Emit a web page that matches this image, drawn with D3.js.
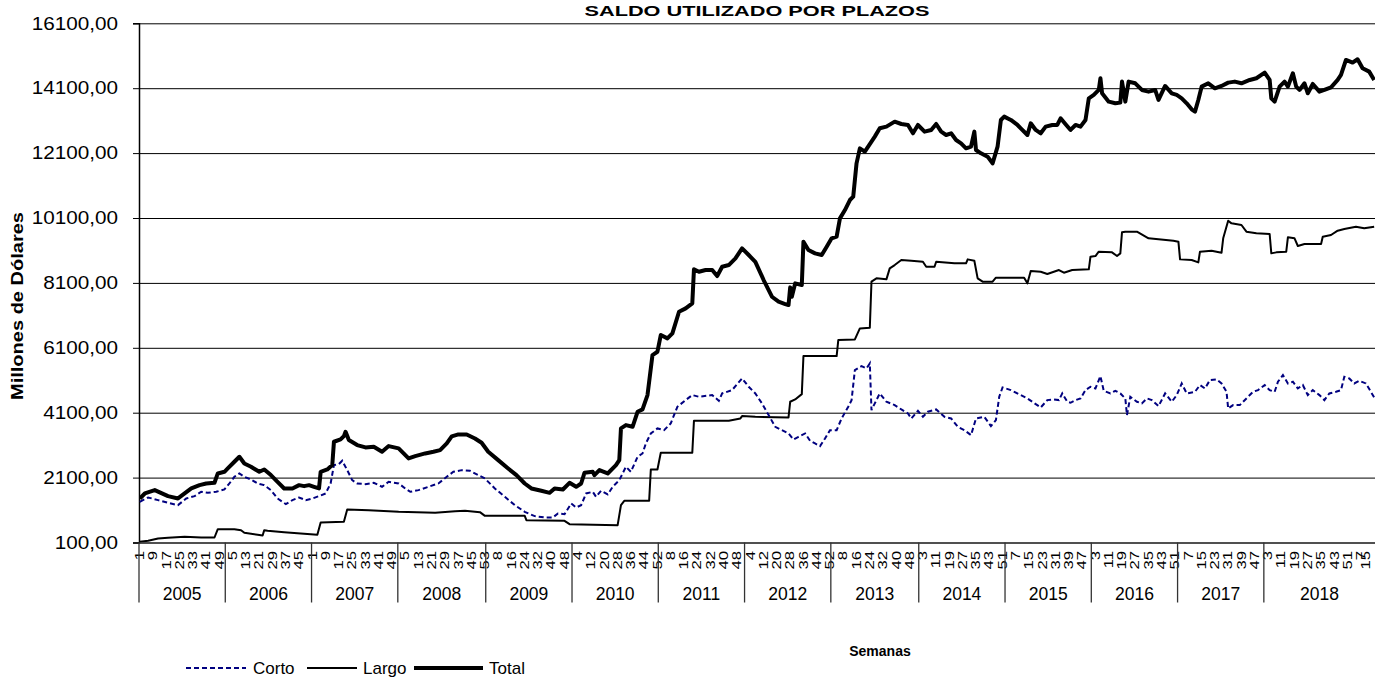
<!DOCTYPE html>
<html>
<head>
<meta charset="utf-8">
<script src="https://cdnjs.cloudflare.com/ajax/libs/d3/7.8.5/d3.min.js"></script>
<style>
  body { margin: 0; background: #fff; }
  svg { font-family: Arial, "Liberation Sans", sans-serif; }
</style>
</head>
<body>
<div id="viz"></div>
<script>
// Years on the category axis and weeks per year (2018 carries 15 extra weeks)
const years = [2005, 2006, 2007, 2008, 2009, 2010, 2011, 2012, 2013, 2014, 2015, 2016, 2017, 2018];
const weeksPerYear = [52, 52, 52, 53, 52, 52, 52, 52, 53, 52, 52, 52, 52, 52];
const extraWeeks2018 = 15;
const yTicks = [100, 2100, 4100, 6100, 8100, 10100, 12100, 14100, 16100];

// [week index since 2005-1, value in millions]
const corto = [[0,1354],[5,1488],[11,1406],[17,1323],[23,1251],[28,1457],[33,1529],[37,1663],[41,1632],[46,1663],[51,1735],[54,1920],[57,2125],[60,2228],[63,2125],[67,2043],[71,1920],[75,1868],[79,1714],[83,1457],[88,1282],[92,1406],[96,1488],[100,1406],[104,1457],[108,1529],[112,1611],[115,1920],[117,2485],[120,2516],[122,2619],[125,2331],[128,2022],[131,1920],[136,1899],[141,1940],[146,1817],[150,1971],[156,1920],[160,1765],[163,1663],[168,1714],[174,1817],[180,1920],[185,2125],[189,2279],[194,2330],[199,2310],[204,2176],[208,2073],[214,1765],[220,1508],[226,1251],[232,1046],[238,912],[244,871],[249,871],[252,994],[256,974],[260,1302],[263,1179],[266,1251],[269,1611],[273,1662],[275,1508],[278,1693],[282,1580],[285,1816],[289,2022],[293,2433],[296,2279],[300,2741],[303,2844],[305,3152],[308,3461],[312,3615],[316,3563],[320,3769],[324,4283],[329,4488],[333,4643],[337,4591],[345,4643],[349,4468],[351,4694],[357,4797],[363,5156],[367,4899],[371,4694],[375,4386],[379,4026],[383,3666],[387,3563],[391,3461],[394,3276],[397,3358],[401,3461],[404,3234],[407,3152],[410,3070],[413,3306],[416,3563],[420,3563],[423,3923],[427,4283],[429,4488],[431,5413],[435,5536],[438,5465],[440,5619],[441,4180],[443,4386],[446,4694],[450,4437],[455,4334],[459,4200],[463,4077],[465,3923],[469,4159],[472,3974],[475,4129],[480,4200],[485,3974],[489,3923],[493,3666],[497,3563],[501,3409],[504,3923],[509,3974],[513,3687],[516,3872],[518,4591],[520,4879],[525,4797],[531,4643],[535,4540],[540,4365],[543,4262],[547,4488],[551,4509],[554,4488],[556,4694],[559,4437],[561,4406],[564,4488],[567,4540],[570,4797],[573,4899],[576,4848],[579,5228],[581,4776],[585,4694],[588,4776],[591,4694],[594,4540],[595,4026],[597,4591],[601,4437],[604,4386],[607,4540],[610,4488],[614,4303],[618,4694],[622,4437],[625,4643],[628,5002],[631,4694],[636,4745],[639,4951],[642,4848],[645,5105],[649,5125],[652,5002],[655,4745],[656,4231],[659,4334],[663,4334],[667,4540],[671,4745],[674,4797],[678,4951],[681,4797],[684,4745],[686,5053],[689,5259],[692,5002],[695,5053],[698,4848],[701,4951],[704,4643],[707,4797],[711,4643],[714,4488],[717,4694],[721,4745],[724,4797],[726,5208],[729,5156],[732,5002],[735,5084],[739,5002],[742,4745],[744,4571]];

const largo = [[0,121],[5,151],[11,223],[17,244],[27,275],[37,254],[45,254],[47,511],[57,511],[61,480],[63,398],[71,336],[74,316],[75,480],[77,460],[87,419],[97,378],[107,336],[109,717],[123,737],[125,1118],[138,1097],[156,1046],[178,1015],[186,1046],[190,1066],[196,1076],[205,1035],[208,922],[232,922],[233,789],[256,768],[259,665],[288,634],[290,1251],[292,1385],[307,1385],[308,2351],[312,2351],[314,2865],[333,2865],[334,3851],[355,3851],[362,3923],[363,3995],[371,3974],[391,3954],[392,4437],[395,4509],[399,4673],[400,5845],[420,5845],[421,6338],[431,6359],[434,6698],[440,6718],[441,8137],[444,8240],[450,8209],[452,8548],[455,8650],[459,8805],[465,8784],[472,8753],[474,8599],[479,8599],[480,8753],[491,8702],[498,8702],[499,8825],[503,8784],[505,8240],[508,8137],[514,8137],[516,8260],[533,8260],[535,8086],[537,8466],[543,8445],[547,8373],[554,8496],[557,8414],[562,8496],[572,8517],[573,8907],[576,8928],[578,9062],[586,9041],[589,8928],[591,9010],[592,9658],[594,9678],[601,9678],[608,9473],[623,9401],[626,9370],[627,8825],[634,8805],[638,8733],[639,9062],[646,9092],[652,9031],[653,9473],[656,10017],[658,9935],[664,9884],[667,9678],[673,9627],[681,9607],[682,9010],[685,9041],[691,9062],[692,9504],[696,9473],[698,9237],[702,9298],[712,9298],[713,9524],[718,9576],[722,9709],[726,9761],[733,9833],[738,9781],[744,9833]];

const total = [[0,1457],[3,1611],[9,1714],[17,1529],[23,1457],[27,1611],[31,1765],[36,1868],[40,1920],[45,1940],[47,2228],[51,2279],[53,2382],[57,2588],[60,2742],[63,2536],[67,2434],[72,2279],[75,2351],[79,2177],[83,1971],[87,1765],[92,1765],[96,1868],[99,1837],[102,1868],[105,1817],[108,1765],[109,2279],[113,2351],[116,2485],[117,3205],[121,3277],[123,3379],[124,3513],[126,3256],[131,3102],[136,3030],[141,3051],[146,2896],[150,3071],[156,2999],[159,2845],[162,2691],[166,2763],[172,2845],[177,2896],[181,2948],[185,3153],[188,3370],[192,3430],[197,3430],[202,3306],[206,3173],[210,2895],[216,2638],[222,2382],[227,2176],[232,1919],[236,1765],[242,1693],[247,1631],[250,1765],[255,1734],[259,1940],[263,1816],[266,1919],[268,2248],[273,2279],[274,2176],[277,2330],[282,2227],[287,2484],[289,2638],[290,3615],[293,3718],[297,3666],[300,4129],[303,4201],[306,4643],[309,5876],[312,5979],[314,6492],[318,6390],[321,6544],[325,7212],[329,7314],[333,7469],[334,8517],[337,8445],[341,8496],[345,8496],[348,8311],[351,8599],[355,8650],[359,8856],[363,9164],[367,8959],[371,8750],[376,8188],[381,7674],[385,7520],[389,7448],[391,7417],[392,7962],[393,7674],[395,8085],[399,8034],[400,9370],[403,9113],[407,9010],[411,8959],[414,9216],[417,9473],[420,9524],[422,10089],[425,10346],[428,10654],[430,10757],[432,11785],[434,12247],[437,12145],[439,12299],[443,12607],[446,12864],[450,12915],[455,13069],[459,12997],[463,12967],[466,12710],[469,12967],[473,12761],[477,12813],[480,12997],[483,12761],[486,12658],[489,12710],[492,12504],[495,12401],[498,12247],[501,12299],[503,12761],[504,12196],[507,12093],[511,11990],[514,11785],[517,12299],[519,13121],[521,13224],[525,13121],[529,12967],[531,12864],[535,12658],[537,13018],[540,12813],[543,12710],[546,12915],[550,12967],[553,12967],[555,13172],[558,12990],[561,12813],[564,12967],[567,12915],[570,13121],[572,13789],[575,13892],[578,14046],[579,14406],[580,13943],[584,13686],[588,13635],[591,13655],[592,14303],[594,13686],[596,14303],[600,14251],[604,14046],[608,13994],[612,14046],[614,13738],[618,14169],[622,13943],[625,13892],[628,13789],[631,13635],[634,13450],[636,13378],[638,13738],[640,14148],[644,14251],[648,14097],[652,14169],[656,14272],[660,14303],[664,14251],[669,14354],[673,14406],[678,14580],[681,14354],[682,13789],[684,13686],[687,14148],[690,14303],[692,14148],[695,14560],[697,14148],[699,14046],[702,14251],[704,13943],[707,14231],[711,13994],[714,14046],[718,14128],[722,14354],[724,14509],[727,14971],[731,14889],[734,14992],[737,14714],[741,14611],[744,14354]];

// Build week categories
const categories = [];
years.forEach(function(yr, k) {
    for (let w = 1; w <= weeksPerYear[k]; w++) categories.push({ year: yr, week: w });
});
for (let w = 1; w <= extraWeeks2018; w++) categories.push({ year: 2018, week: w });

const W = 1375, H = 679;
const margin = {top: 23.3, right: 0, bottom: 136.5, left: 139};
const width = W - margin.left - margin.right,
      height = H - margin.top - margin.bottom;

const svg = d3.select("#viz").append("svg")
    .attr("width", W)
    .attr("height", H);

const g = svg.append("g")
    .attr("transform", `translate(${margin.left},${margin.top})`);

const x = d3.scaleBand()
    .domain(d3.range(categories.length))
    .range([0, width])
    .padding(0);

const y = d3.scaleLinear()
    .domain([100, 16100])
    .range([height, 0]);

const locale = d3.formatLocale({decimal: ",", thousands: ".", grouping: [3], currency: ["$", ""]});
const fmt = locale.format(".2f");

// Gridlines
g.append("g")
    .attr("class", "grid")
    .call(d3.axisLeft(y).tickValues(yTicks).tickSize(-width).tickFormat(""))
    .call(s => s.select(".domain").remove())
    .call(s => s.selectAll("line").attr("stroke", "#000").attr("stroke-width", 1));

// Y axis
const yAxis = g.append("g")
    .call(d3.axisLeft(y).tickValues(yTicks).tickSize(6).tickPadding(15).tickFormat(fmt));
yAxis.select(".domain").attr("stroke", "#000").attr("stroke-width", 1.5);
yAxis.selectAll(".tick line").attr("stroke", "#000");
yAxis.selectAll("text")
    .attr("x", 0)
    .attr("transform", "translate(-21,0) scale(1.15,1)")
    .attr("font-size", 18)
    .attr("font-family", "Arial, 'Liberation Sans', sans-serif")
    .attr("fill", "#000");

// X axis: week labels every 8 categories
const labelIdx = d3.range(0, categories.length, 8);
const xAxis = g.append("g")
    .attr("transform", `translate(0,${height})`)
    .call(d3.axisBottom(x).tickValues(labelIdx).tickSize(0)
        .tickFormat(i => categories[i].week));
xAxis.select(".domain").attr("stroke", "#404040").attr("stroke-width", 1.6);
// keep the last label inside the picture
xAxis.selectAll(".tick")
    .attr("transform", function(i) {
        const cx = Math.min(x(i) + x.bandwidth() / 2, width - 9);
        return `translate(${cx},0)`;
    });
xAxis.selectAll("text")
    .attr("transform", "rotate(-90) scale(1.4,1)")
    .attr("x", -6)
    .attr("y", 0)
    .attr("dy", "0.35em")
    .attr("text-anchor", "end")
    .attr("font-size", 12)
    .attr("font-family", "Arial, 'Liberation Sans', sans-serif")
    .attr("fill", "#000");

// Year groups
let start = 0;
const groups = years.map(function(yr, k) {
    const n = weeksPerYear[k] + (k === years.length - 1 ? extraWeeks2018 : 0);
    const grp = { year: yr, start: start, end: start + n };
    start += n;
    return grp;
});
const edgeX = i => i >= categories.length ? width : x(i);

g.selectAll(".yearsep")
    .data(groups)
    .join("line")
    .attr("class", "yearsep")
    .attr("x1", d => edgeX(d.start)).attr("x2", d => edgeX(d.start))
    .attr("y1", height).attr("y2", height + 60)
    .attr("stroke", "#333").attr("stroke-width", 1.3);

g.selectAll(".yearlabel")
    .data(groups)
    .join("text")
    .attr("class", "yearlabel")
    .attr("x", d => (edgeX(d.start) + edgeX(d.end)) / 2)
    .attr("y", height + 58)
    .attr("text-anchor", "middle")
    .attr("font-size", 17.5)
    .text(d => d.year);

// Lines
svg.append("clipPath").attr("id", "plotclip")
    .append("rect").attr("x", 0).attr("y", -10).attr("width", width).attr("height", height + 10);

const line = d3.line()
    .x(d => x(d[0]) + x.bandwidth() / 2)
    .y(d => y(d[1]));

const plot = g.append("g").attr("clip-path", "url(#plotclip)");

plot.append("path").datum(largo)
    .attr("fill", "none").attr("stroke", "#000").attr("stroke-width", 2)
    .attr("stroke-linejoin", "round")
    .attr("d", line);

plot.append("path").datum(corto)
    .attr("fill", "none").attr("stroke", "#000080").attr("stroke-width", 2)
    .attr("stroke-dasharray", "5,3")
    .attr("d", line);

plot.append("path").datum(total)
    .attr("fill", "none").attr("stroke", "#000").attr("stroke-width", 4)
    .attr("stroke-linejoin", "round")
    .attr("d", line);

// Title
svg.append("text")
    .attr("x", 757).attr("y", 16)
    .attr("text-anchor", "middle")
    .attr("font-weight", "bold")
    .attr("font-size", 15)
    .attr("textLength", 345)
    .attr("lengthAdjust", "spacingAndGlyphs")
    .text("SALDO UTILIZADO POR PLAZOS");

// Axis titles
svg.append("text")
    .attr("transform", "translate(23,306) rotate(-90)")
    .attr("text-anchor", "middle")
    .attr("font-weight", "bold")
    .attr("font-size", 16)
    .attr("textLength", 188)
    .attr("lengthAdjust", "spacingAndGlyphs")
    .text("Millones de Dólares");

svg.append("text")
    .attr("x", 880).attr("y", 656)
    .attr("text-anchor", "middle")
    .attr("font-weight", "bold")
    .attr("font-size", 14)
    .text("Semanas");

// Legend
const legend = [
    { name: "Corto", x1: 186, x2: 246, tx: 253, color: "#000080", w: 2, dash: "5,3" },
    { name: "Largo", x1: 307, x2: 357, tx: 363, color: "#000", w: 2, dash: null },
    { name: "Total", x1: 414, x2: 483, tx: 489, color: "#000", w: 4, dash: null }
];
const lg = svg.append("g").attr("class", "legend");
legend.forEach(function(l) {
    lg.append("line")
        .attr("x1", l.x1).attr("x2", l.x2).attr("y1", 668).attr("y2", 668)
        .attr("stroke", l.color).attr("stroke-width", l.w)
        .attr("stroke-dasharray", l.dash);
    lg.append("text")
        .attr("x", l.tx).attr("y", 674)
        .attr("font-size", 17)
        .text(l.name);
});
</script>
</body>
</html>
